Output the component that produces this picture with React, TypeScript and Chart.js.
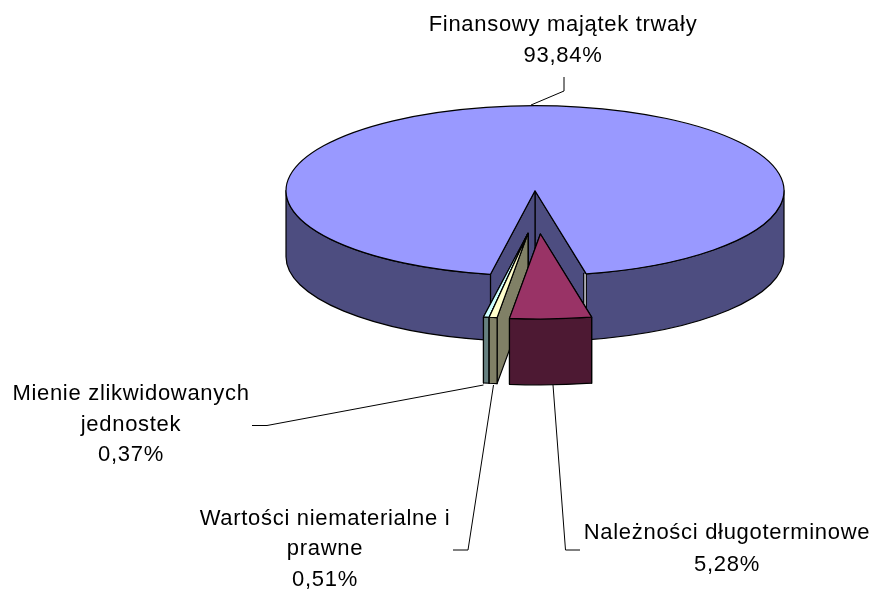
import { useEffect, useRef } from "react";
import { Chart, registerables } from "chart.js";

Chart.register(...registerables);

// Data, in the order the slices run clockwise
const categories = [
  "Finansowy majątek trwały",
  "Należności długoterminowe",
  "Wartości niematerialne i prawne",
  "Mienie zlikwidowanych jednostek",
];
const shares = [93.84, 5.28, 0.51, 0.37];

// Styles
const topColors = ["#9999FF", "#993366", "#FFFFCC", "#CCFFFF"];
const wallColors = ["#4D4D80", "#4D1933", "#808066", "#668080"];
const ROTATION = 190.3;
const RADIUS = 249;
const SQUASH = 85 / 249;
const DEPTH = 66;
// exploded slices: on-screen shift of each slice
const shiftX = [0, 5.4, -7, -7];
const shiftY = [0, 43.3, 42.6, 42.6];
// label layout: centre x, y of first line, wrap width, leader polyline
const labelX = [563, 727, 325, 131];
const labelY = [25, 533, 518.5, 394];
const lineHeights = [31.3, 32, 30.6, 30.6];
const WRAP = 275;
const WRAP_BY_SLICE = [400, 400, WRAP, WRAP];
const leaders: number[][][] = [
  [[564, 77], [564, 91], [531, 105]],
  [[553, 385], [565.5, 550], [580, 550]],
  [[493.5, 385], [468, 550], [453, 550]],
  [[483.5, 385], [267, 425.5], [252, 425.5]],
];

const FONT = '22px "Liberation Sans", Arial, sans-serif';
const LETTER_SPACING = "0.7px";

function wrap(ctx: CanvasRenderingContext2D, text: string, max: number) {
  const lines: string[] = [];
  let cur = "";
  for (const w of text.split(" ")) {
    const t = cur ? cur + " " + w : w;
    if (ctx.measureText(t).width > max && cur) {
      lines.push(cur);
      cur = w;
    } else cur = t;
  }
  lines.push(cur);
  return lines;
}

const pie3d = {
  id: "pie3d",
  beforeDatasetsDraw(chart: any) {
    const ctx: CanvasRenderingContext2D = chart.ctx;
    const arcs = chart.getDatasetMeta(0).data;
    ctx.save();
    ctx.lineWidth = 1.2;
    ctx.strokeStyle = "#000";
    ctx.lineJoin = "round";

    const order = [0, 3, 2, 1];
    for (const i of order) {
      const arc = arcs[i];
      const cx = arc.x + shiftX[i];
      const cy = arc.y + shiftY[i];
      const r = arc.outerRadius;
      const ry = r * SQUASH;
      const a0 = arc.startAngle;
      const a1 = arc.endAngle;
      const px = (a: number) => cx + r * Math.cos(a);
      const py = (a: number) => cy + ry * Math.sin(a);

      const radial = (a: number) => {
        ctx.beginPath();
        ctx.moveTo(cx, cy);
        ctx.lineTo(px(a), py(a));
        ctx.lineTo(px(a), py(a) + DEPTH);
        ctx.lineTo(cx, cy + DEPTH);
        ctx.closePath();
        ctx.fillStyle = wallColors[i];
        ctx.fill();
        ctx.stroke();
      };
      radial(a1);
      radial(a0);

      // outer wall: only parts facing the viewer (sin > 0)
      const TAU = Math.PI * 2;
      for (let k = -1; k <= 1; k++) {
        const s = Math.max(a0, k * TAU);
        const e = Math.min(a1, k * TAU + Math.PI);
        if (e <= s) continue;
        ctx.beginPath();
        ctx.ellipse(cx, cy, r, ry, 0, s, e);
        ctx.lineTo(px(e), py(e) + DEPTH);
        ctx.ellipse(cx, cy + DEPTH, r, ry, 0, e, s, true);
        ctx.closePath();
        ctx.fillStyle = wallColors[i];
        ctx.fill();
        ctx.stroke();
      }

      // pale sliver at the rim of the big slice's gap
      if (i === 0) {
        const x = px(a1 - TAU);
        const y = py(a1 - TAU);
        ctx.save();
        ctx.strokeStyle = "#C8C8C8";
        ctx.lineWidth = 1.6;
        ctx.beginPath();
        ctx.moveTo(x - 1.2, y);
        ctx.lineTo(x - 1.2, y + DEPTH);
        ctx.stroke();
        ctx.strokeStyle = "#000";
        ctx.lineWidth = 1;
        ctx.beginPath();
        ctx.moveTo(x - 2.6, y - 1);
        ctx.lineTo(x - 2.6, y + DEPTH);
        ctx.stroke();
        ctx.restore();
      }

      // top face: the library's own arc, squashed
      ctx.save();
      ctx.translate(shiftX[i], shiftY[i] + arc.y);
      ctx.scale(1, SQUASH);
      ctx.translate(0, -arc.y);
      arc.draw(ctx);
      ctx.restore();

      ctx.beginPath();
      ctx.moveTo(cx, cy);
      ctx.ellipse(cx, cy, r, ry, 0, a0, a1);
      ctx.closePath();
      ctx.stroke();
    }

    // leader lines
    ctx.strokeStyle = "#000";
    ctx.lineWidth = 1;
    for (const pts of leaders) {
      ctx.beginPath();
      pts.forEach(([x, y], n) => (n ? ctx.lineTo(x, y) : ctx.moveTo(x, y)));
      ctx.stroke();
    }

    // labels
    ctx.font = FONT;
    (ctx as any).letterSpacing = LETTER_SPACING;
    ctx.fillStyle = "#000";
    ctx.textAlign = "center";
    ctx.textBaseline = "middle";
    categories.forEach((name, i) => {
      const lines = wrap(ctx, name, WRAP_BY_SLICE[i]);
      lines.push(shares[i].toFixed(2).replace(".", ",") + "%");
      lines.forEach((l, n) => ctx.fillText(l, labelX[i], labelY[i] + n * lineHeights[i]));
    });
    ctx.restore();
    return false;
  },
};

export default function App() {
  const ref = useRef<HTMLCanvasElement>(null);
  useEffect(() => {
    const chart = new Chart(ref.current!, {
      type: "pie",
      data: {
        labels: categories,
        datasets: [
          {
            data: shares,
            backgroundColor: topColors,
            borderWidth: 0,
            radius: RADIUS,
          } as any,
        ],
      },
      options: {
        animation: false,
        responsive: false,
        rotation: ROTATION,
        layout: { padding: { left: 199, right: 0, top: 0, bottom: 208.6 } },
        plugins: { legend: { display: false }, tooltip: { enabled: false } },
      },
      plugins: [pie3d],
    });
    return () => chart.destroy();
  }, []);
  return (
    <canvas
      ref={ref}
      width={871}
      height={590}
      style={{ position: "absolute", left: 0, top: 0, width: 871, height: 590, background: "#fff" }}
    />
  );
}
